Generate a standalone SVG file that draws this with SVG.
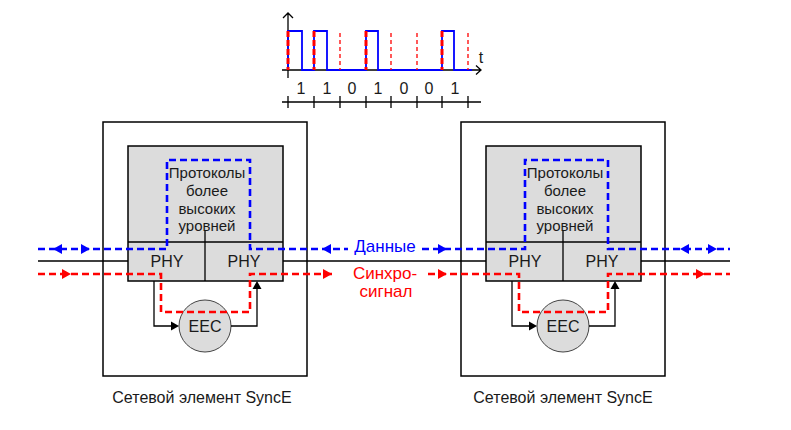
<svg xmlns="http://www.w3.org/2000/svg" xmlns:xlink="http://www.w3.org/1999/xlink" width="791" height="430" viewBox="0 0 791 430">
<style>
text{font-family:"Liberation Sans",Arial,sans-serif;fill:#1a1a1a;text-anchor:middle}
.outer{fill:#fff;stroke:#000;stroke-width:1.5}
.grey{fill:#dcdcdc;stroke:#000;stroke-width:1.5}
.ln{fill:none;stroke:#000;stroke-width:1.3}
.blue{fill:none;stroke:#0000ff;stroke-width:2.6;stroke-dasharray:7 4}
.red{fill:none;stroke:#ff0000;stroke-width:2.6;stroke-dasharray:7 4}
.fb{fill:#0000ff}
.fr{fill:#ff0000}
.eec{fill:#dcdcdc;stroke:#444;stroke-width:1}
.t16{font-size:16px}
.t15{font-size:15px}
.t17{font-size:17px}
</style>
<defs>
<polygon id="aR" points="0,0 -9,-5 -9,5"/>
<polygon id="aL" points="0,0 9,-5 9,5"/>
<polygon id="kR" points="0,0 -8,-4.5 -8,4.5"/>
<polygon id="kU" points="0,0 -4.5,8 4.5,8"/>
</defs>

<g id="timing">
<path class="ln" d="M288,78 V13 M283,18 L288,13 L293,18"/>
<path class="ln" d="M282,70 H481 M476,65.5 L481,70 L476,74.5"/>
<text x="481" y="63" class="t16">t</text>
<path d="M288,70 V31 H302 V70 H314 V31 H327 V70 H366 V31 H378 V70 H442 V31 H454 V70 H472" fill="none" stroke="#0000ff" stroke-width="1.8"/>
<path d="M288,31 V70 M314,31 V70 M366,31 V70 M442,31 V70" fill="none" stroke="#ff0000" stroke-width="3" stroke-dasharray="6 3"/>
<path d="M340,33 V70 M391,33 V70 M417,33 V70 M468,33 V70" fill="none" stroke="#ff0000" stroke-width="1.3" stroke-dasharray="4 3"/>
<g class="t16">
<text x="301" y="94">1</text>
<text x="327" y="94">1</text>
<text x="352" y="94">0</text>
<text x="378" y="94">1</text>
<text x="404" y="94">0</text>
<text x="429" y="94">0</text>
<text x="455" y="94">1</text>
</g>
<path class="ln" d="M282,102 H481 M288,96 V108 M314,96 V108 M340,96 V108 M366,96 V108 M391,96 V108 M417,96 V108 M442,96 V108 M468,96 V108"/>
</g>

<g id="ne1">
<rect class="outer" x="103" y="122" width="204" height="254"/>
<rect class="grey" x="128" y="146" width="155" height="135"/>
<path class="ln" d="M128,242 H283 M205,230 V281"/>
<text class="t15" x="207" y="178">Протоколы</text>
<text class="t15" x="207" y="196">более</text>
<text class="t15" x="207" y="214">высоких</text>
<text class="t15" x="207" y="231">уровней</text>
<text class="t16" x="167" y="267">PHY</text>
<text class="t16" x="244" y="267">PHY</text>
<circle class="eec" cx="205" cy="326" r="26"/>
<text class="t16" x="205" y="332">EEC</text>
<text class="t16" x="202" y="403">Сетевой элемент SyncE</text>
</g>

<g id="ne2" transform="translate(358,0)">
<rect class="outer" x="103" y="122" width="204" height="254"/>
<rect class="grey" x="128" y="146" width="155" height="135"/>
<path class="ln" d="M128,242 H283 M205,230 V281"/>
<text class="t15" x="207" y="178">Протоколы</text>
<text class="t15" x="207" y="196">более</text>
<text class="t15" x="207" y="214">высоких</text>
<text class="t15" x="207" y="231">уровней</text>
<text class="t16" x="167" y="267">PHY</text>
<text class="t16" x="244" y="267">PHY</text>
<circle class="eec" cx="205" cy="326" r="26"/>
<text class="t16" x="205" y="332">EEC</text>
<text class="t16" x="205" y="403">Сетевой элемент SyncE</text>
</g>

<g id="connectors">
<path class="ln" d="M38,261 H128 M283,261 H486 M641,261 H730"/>
<path class="ln" d="M154,281 V326 H172 M231,326 H257 V288"/>
<path class="ln" d="M512,281 V326 H530 M589,326 H615 V288"/>
<use xlink:href="#kR" x="179" y="326"/>
<use xlink:href="#kU" x="257" y="281"/>
<use xlink:href="#kR" x="537" y="326"/>
<use xlink:href="#kU" x="615" y="281"/>
<path class="blue" d="M38,249 H167 V160 H250 V249 H348"/>
<path class="blue" d="M422,249 H525 V160 H608 V249 H730"/>
<path class="red" d="M38,274 H161 V312 H250 V274 H336"/>
<path class="red" d="M428,274 H519 V312 H608 V274 H730"/>
<g class="fb">
<use xlink:href="#aL" x="53" y="249"/>
<use xlink:href="#aR" x="90" y="249"/>
<use xlink:href="#aL" x="322" y="249"/>
<use xlink:href="#aR" x="447" y="249"/>
<use xlink:href="#aL" x="680" y="249"/>
<use xlink:href="#aR" x="717" y="249"/>
</g>
<g class="fr">
<use xlink:href="#aR" x="71" y="274"/>
<use xlink:href="#aR" x="332" y="274"/>
<use xlink:href="#aR" x="447" y="274"/>
<use xlink:href="#aR" x="705" y="274"/>
</g>
<text class="t17" x="385" y="252" style="fill:#0000ff">Данные</text>
<text class="t17" x="385" y="279" style="fill:#ff0000">Синхро-</text>
<text class="t17" x="386" y="297" style="fill:#ff0000">сигнал</text>
</g>
</svg>
